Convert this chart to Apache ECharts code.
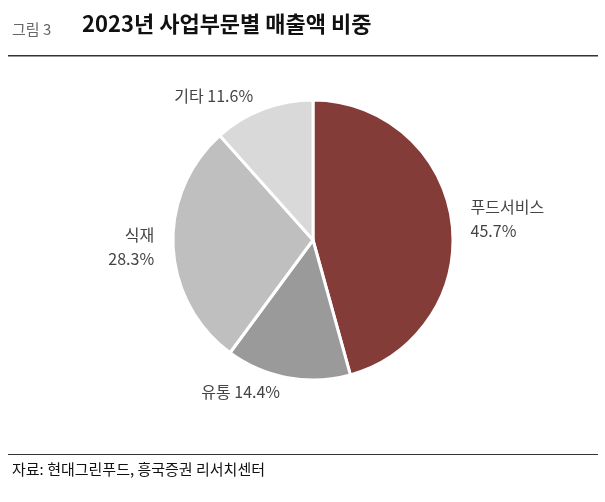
<!DOCTYPE html>
<html><head><meta charset="utf-8">
<script src="https://cdn.jsdelivr.net/npm/echarts@6/dist/echarts.min.js"></script>
<style>body{margin:0;background:#fff}#chart{width:605px;height:502px}</style>
</head><body><div id="chart"></div>
<script>
const names = ['푸드서비스', '유통', '식재', '기타'];
const values = [45.7, 14.4, 28.3, 11.6];
const colors = ['#843c39', '#9a9a9a', '#bfbfbf', '#d9d9d9'];
const twoLine = [true, false, true, false];

const chart = echarts.init(document.getElementById('chart'));
chart.setOption({
  animation: false,
  graphic: [
    {type: 'text', left: 12, top: 22, style: {text: '그림 3', fontSize: 15, fill: '#666', fontFamily: 'Noto Sans CJK KR'}},
    {type: 'text', left: 82, top: 13, style: {text: '2023년 사업부문별 매출액 비중', fontSize: 22, fontWeight: 'bold', fill: '#111', fontFamily: 'Noto Sans CJK KR'}},
    {type: 'rect', shape: {x: 8, y: 55, width: 590, height: 1.5}, style: {fill: '#333'}},
    {type: 'rect', shape: {x: 8, y: 454, width: 590, height: 1}, style: {fill: '#333'}},
    {type: 'text', left: 12, top: 462, style: {text: '자료: 현대그린푸드, 흥국증권 리서치센터', fontSize: 15, fill: '#111', fontFamily: 'Noto Sans CJK KR'}}
  ],
  series: [{
    type: 'pie',
    center: [313, 240],
    radius: [0, 140],
    startAngle: 90,
    clockwise: true,
    itemStyle: {borderColor: '#fff', borderWidth: 3},
    labelLine: {show: false, length: 14, length2: 0},
    label: {
      position: 'outside',
      fontSize: 16,
      color: '#444',
      lineHeight: 24,
      align: 'center',
      fontFamily: 'Noto Sans CJK KR',
      formatter: p => twoLine[p.dataIndex] ? p.name + '\n' + p.value + '%' : p.name + ' ' + p.value + '%'
    },
    data: names.map((n, i) => ({name: n, value: values[i], itemStyle: {color: colors[i]}}))
  }]
});
</script></body></html>
